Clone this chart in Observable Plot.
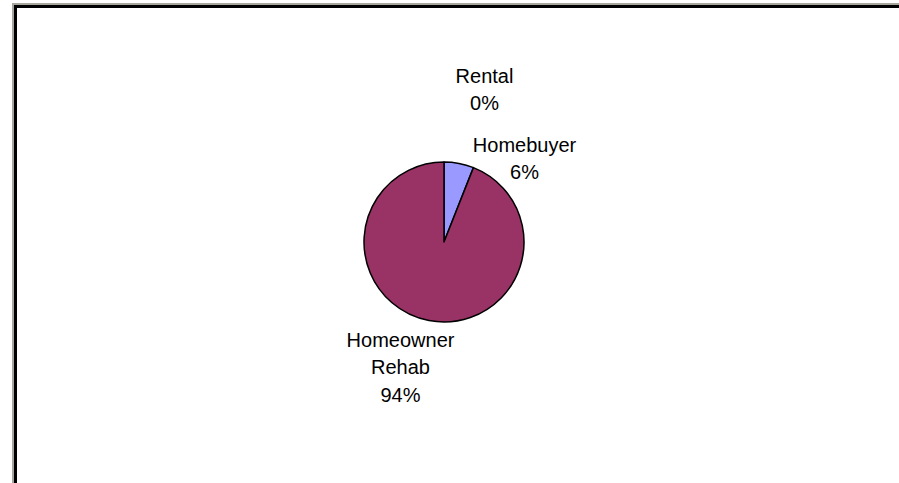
<!DOCTYPE html>
<html><head><meta charset="utf-8">
<script src="https://cdn.jsdelivr.net/npm/d3@7"></script>
<script src="https://cdn.jsdelivr.net/npm/@observablehq/plot@0.6"></script>
<style>
html,body{margin:0;padding:0;background:#fff;overflow:hidden}
#wrap{position:relative;width:899px;height:483px;overflow:hidden}
#frame{position:absolute;left:12px;top:3px;width:1000px;height:1000px;border-left:2px solid #a8a69e;border-top:2px solid #a8a69e;}
#frame2{position:absolute;left:14px;top:5px;width:1000px;height:1000px;border-left:3px solid #000;border-top:3px solid #000;}
#chart{position:absolute;left:0;top:0}
</style></head><body>
<div id="wrap"><div id="frame"></div><div id="frame2"></div><div id="chart"></div></div>
<script>
// Data
const categories = ["Rental", "Homebuyer", "Homeowner Rehab"];
const values = [0, 6, 94];
const nameLines = [["Rental"], ["Homebuyer"], ["Homeowner", "Rehab"]];
const colors = ["#FFFFCC", "#9999FF", "#993366"];

// Layout
const W = 899, H = 483;
const pieCx = 444, pieCy = 242, pieR = 80;
// label placement relative to the pie centre
const labelNudge = [[40, -155], [80, -86], [-44, 123]];

const total = d3.sum(values);
const table = categories.map((c, i) => ({category: c, value: values[i], color: colors[i]}));
const arcs = d3.pie().sort(null).value(d => d.value).startAngle(0).endAngle(2 * Math.PI)(table);
const arcGen = d3.arc().innerRadius(0).outerRadius(pieR);

const labels = arcs.map((a, i) => ({
  x: pieCx + labelNudge[i][0],
  y: pieCy + labelNudge[i][1],
  text: [...nameLines[i], Math.round(a.data.value / total * 100) + "%"].join("\n")
}));

const pieMark = (index, scales, vals, dims) => {
  const g = d3.create("svg:g").attr("transform", `translate(${scales.x(pieCx)},${scales.y(pieCy)})`);
  g.selectAll("path")
    .data(arcs.filter(a => a.data.value > 0))
    .join("path")
    .attr("d", arcGen)
    .attr("fill", d => d.data.color)
    .attr("stroke", "#000")
    .attr("stroke-width", 1.5)
    .attr("stroke-linejoin", "round");
  return g.node();
};

const chart = Plot.plot({
  width: W, height: H,
  margin: 0,
  style: {background: "transparent", overflow: "visible"},
  x: {type: "identity", axis: null},
  y: {type: "identity", axis: null},
  marks: [
    pieMark,
    Plot.text(labels, {
      x: "x", y: "y", text: "text",
      fontSize: 20, fontFamily: "'Liberation Sans', Arial, sans-serif",
      fill: "#000", lineHeight: 1.38, textAnchor: "middle"
    })
  ]
});
document.getElementById("chart").appendChild(chart);
</script>
</body></html>
